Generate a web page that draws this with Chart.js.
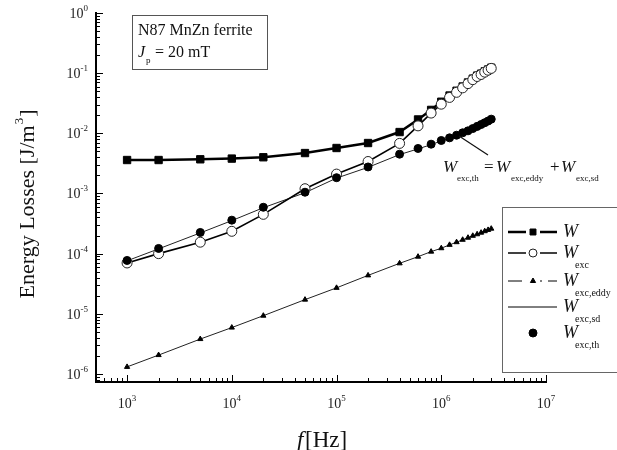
<!DOCTYPE html>
<html>
<head>
<meta charset="utf-8">
<script src="https://cdn.jsdelivr.net/npm/chart.js@4.4.1/dist/chart.umd.min.js"></script>
<style>
  body { margin: 0; background: #fff; }
  #wrap { width: 617px; height: 450px; }
</style>
</head>
<body>
<div id="wrap"><canvas id="c" width="617" height="450"></canvas></div>
<script>
// frequencies [Hz]
const freq = [1e3, 2e3, 5e3, 1e4, 2e4, 5e4, 1e5, 2e5, 4e5, 6e5, 8e5,
  1e6, 1.2e6, 1.4e6, 1.6e6, 1.8e6, 2e6, 2.2e6, 2.4e6, 2.6e6, 2.8e6, 3e6];

// energy losses [J/m^3]
const wTotal = [3.6e-3, 3.6e-3, 3.7e-3, 3.8e-3, 4.0e-3, 4.7e-3, 5.7e-3, 6.9e-3, 1.05e-2, 1.7e-2, 2.45e-2,
  3.35e-2, 4.25e-2, 5.1e-2, 6.0e-2, 7.0e-2, 8.1e-2, 9.1e-2, 9.8e-2, 0.107, 0.115, 0.123];
const wExc = [7.0e-5, 1.0e-4, 1.55e-4, 2.35e-4, 4.5e-4, 1.2e-3, 2.1e-3, 3.4e-3, 6.8e-3, 1.33e-2, 2.17e-2,
  3.05e-2, 3.95e-2, 4.8e-2, 5.7e-2, 6.7e-2, 7.8e-2, 8.8e-2, 9.5e-2, 0.104, 0.112, 0.12];
const wEddy = [1.31e-6, 2.06e-6, 3.8e-6, 5.9e-6, 9.3e-6, 1.72e-5, 2.7e-5, 4.35e-5, 6.9e-5, 8.9e-5, 1.08e-4,
  1.23e-4, 1.4e-4, 1.55e-4, 1.7e-4, 1.84e-4, 1.98e-4, 2.1e-4, 2.23e-4, 2.36e-4, 2.48e-4, 2.6e-4];
const wSd = [7.6e-5, 1.2e-4, 2.21e-4, 3.54e-4, 5.8e-4, 1.03e-3, 1.8e-3, 2.72e-3, 4.43e-3, 5.51e-3, 6.49e-3,
  7.48e-3, 8.26e-3, 9.15e-3, 1.0e-2, 1.08e-2, 1.18e-2, 1.28e-2, 1.38e-2, 1.48e-2, 1.58e-2, 1.69e-2];
const wTh = [7.7e-5, 1.22e-4, 2.25e-4, 3.6e-4, 5.9e-4, 1.05e-3, 1.83e-3, 2.76e-3, 4.5e-3, 5.6e-3, 6.6e-3,
  7.6e-3, 8.4e-3, 9.3e-3, 1.02e-2, 1.1e-2, 1.2e-2, 1.3e-2, 1.4e-2, 1.5e-2, 1.6e-2, 1.72e-2];

// decade tick labels (exponents)
const xDecades = [3, 4, 5, 6, 7];
const yDecades = [-6, -5, -4, -3, -2, -1, 0];

const SERIF = '"Liberation Serif", "DejaVu Serif", serif';
const pts = arr => arr.map((v, i) => ({ x: freq[i], y: v }));

// "10" with raised exponent
function drawPow(ctx, exp, x, y, align) {
  const base = '10', sup = String(exp);
  ctx.font = '14px ' + SERIF;
  const wb = ctx.measureText(base).width;
  ctx.font = '9px ' + SERIF;
  const ws = ctx.measureText(sup).width;
  const total = wb + ws;
  let x0 = align === 'right' ? x - total : x - total / 2;
  ctx.textAlign = 'left';
  ctx.textBaseline = 'alphabetic';
  ctx.font = '14px ' + SERIF;
  ctx.fillText(base, x0, y);
  ctx.font = '9px ' + SERIF;
  ctx.fillText(sup, x0 + wb, y - 7);
}

// italic W with subscript
function drawW(ctx, x, y, sub, size, subSize, subX) {
  ctx.textAlign = 'left';
  ctx.textBaseline = 'alphabetic';
  ctx.font = 'italic ' + size + 'px ' + SERIF;
  ctx.fillText('W', x, y);
  if (sub) {
    ctx.font = subSize + 'px ' + SERIF;
    ctx.fillText(sub, subX !== undefined ? subX : x + 14, y + subSize);
  }
}

const decor = {
  id: 'decor',
  afterDraw(chart) {
    const ctx = chart.ctx;
    const xs = chart.scales.x, ys = chart.scales.y;
    const area = chart.chartArea;
    ctx.save();
    ctx.fillStyle = '#000';
    ctx.strokeStyle = '#000';

    // inward ticks
    ctx.lineWidth = 1;
    for (let e = 2; e <= 7; e++) {
      for (let m = 1; m <= 9; m++) {
        const v = m * Math.pow(10, e);
        if (v < xs.min || v > xs.max) continue;
        const px = Math.round(xs.getPixelForValue(v)) + 0.5;
        const len = m === 1 ? 7 : 4;
        ctx.beginPath();
        ctx.moveTo(px, area.bottom);
        ctx.lineTo(px, area.bottom - len);
        ctx.stroke();
      }
    }
    for (let e = -7; e <= 0; e++) {
      for (let m = 1; m <= 9; m++) {
        const v = m * Math.pow(10, e);
        if (v < ys.min || v > ys.max * 1.0001) continue;
        const py = Math.round(ys.getPixelForValue(v)) + 0.5;
        const len = m === 1 ? 7 : 4;
        ctx.beginPath();
        ctx.moveTo(area.left, py);
        ctx.lineTo(area.left + len, py);
        ctx.stroke();
      }
    }

    // tick labels
    ctx.fillStyle = '#222';
    xDecades.forEach(e => drawPow(ctx, e, xs.getPixelForValue(Math.pow(10, e)), area.bottom + 26, 'center'));
    yDecades.forEach(e => drawPow(ctx, e, area.left - 8, ys.getPixelForValue(Math.pow(10, e)) + 5, 'right'));

    // axis titles
    ctx.fillStyle = '#111';
    ctx.save();
    ctx.translate(34, 205);
    ctx.rotate(-Math.PI / 2);
    ctx.textBaseline = 'alphabetic';
    ctx.font = '22px ' + SERIF;
    const t1 = 'Energy Losses [J/m';
    const w1 = ctx.measureText(t1).width;
    ctx.font = '13px ' + SERIF;
    const w2 = ctx.measureText('3').width;
    ctx.font = '22px ' + SERIF;
    const w3 = ctx.measureText(']').width;
    let sx = -(w1 + w2 + w3) / 2;
    ctx.textAlign = 'left';
    ctx.fillText(t1, sx, 0);
    ctx.font = '13px ' + SERIF;
    ctx.fillText('3', sx + w1 + 1, -11);
    ctx.font = '22px ' + SERIF;
    ctx.fillText(']', sx + w1 + w2 + 2, 0);
    ctx.restore();

    ctx.textAlign = 'left';
    ctx.font = 'italic 23px ' + SERIF;
    ctx.fillText('f', 297, 447);
    ctx.font = '23px ' + SERIF;
    ctx.fillText('[Hz]', 305, 447);

    // info box
    ctx.strokeStyle = '#555';
    ctx.lineWidth = 1;
    ctx.strokeRect(132.5, 15.5, 135, 54);
    ctx.fillStyle = '#111';
    ctx.font = '16px ' + SERIF;
    ctx.fillText('N87 MnZn ferrite', 138, 35);
    ctx.font = 'italic 16px ' + SERIF;
    ctx.fillText('J', 138, 57);
    ctx.font = '9px ' + SERIF;
    ctx.fillText('p', 146, 63);
    ctx.font = '16px ' + SERIF;
    ctx.fillText('= 20 mT', 155, 57);

    // annotation
    ctx.strokeStyle = '#111';
    ctx.lineWidth = 1.2;
    ctx.beginPath();
    ctx.moveTo(488, 155);
    ctx.lineTo(459, 136);
    ctx.stroke();
    drawW(ctx, 443, 172, 'exc,th', 17, 9, 457);
    ctx.font = '17px ' + SERIF;
    ctx.fillText('=', 484, 172);
    drawW(ctx, 496, 172, 'exc,eddy', 17, 9, 511);
    ctx.font = '17px ' + SERIF;
    ctx.fillText('+', 550, 172);
    drawW(ctx, 561, 172, 'exc,sd', 17, 9, 576);

    // legend
    ctx.strokeStyle = '#666';
    ctx.lineWidth = 1;
    ctx.strokeRect(502.5, 207.5, 130, 165);
    const rows = [
      { y: 232, ty: 237, sub: '' },
      { y: 253, ty: 258, sub: 'exc' },
      { y: 281, ty: 286, sub: 'exc,eddy' },
      { y: 307, ty: 312, sub: 'exc,sd' },
      { y: 333, ty: 338, sub: 'exc,th' }
    ];
    const ds = chart.data.datasets;
    rows.forEach((r, i) => {
      const d = ds[i];
      ctx.strokeStyle = '#000';
      ctx.fillStyle = '#000';
      if (d.showLine !== false) {
        ctx.lineWidth = d.borderWidth;
        if (d.pointStyle === 'triangle') ctx.setLineDash([14, 6]);
        ctx.beginPath();
        ctx.moveTo(508, r.y);
        ctx.lineTo(557, r.y);
        ctx.stroke();
        ctx.setLineDash([]);
      }
      if (d.pointRadius > 0) {
        if (d.showLine !== false) {
          ctx.fillStyle = '#fff';
          ctx.fillRect(526, r.y - 5, 14, 10);
        }
        ctx.fillStyle = d.pointBackgroundColor;
        ctx.strokeStyle = d.pointBorderColor;
        ctx.lineWidth = d.pointBorderWidth || 1;
        const rad = d.pointStyle === 'circle' && d.pointBackgroundColor === '#fff' ? 4 : d.pointRadius - (d.pointStyle === 'rect' ? 1 : 0);
        Chart.helpers.drawPoint(ctx, { pointStyle: d.pointStyle, radius: rad, borderWidth: ctx.lineWidth, rotation: 0 }, 533, r.y);
      }
      ctx.fillStyle = '#111';
      drawW(ctx, 563, r.ty, r.sub, 18, 10, 575);
    });
    ctx.restore();
  }
};

new Chart(document.getElementById('c'), {
  type: 'line',
  data: {
    datasets: [
      {
        label: 'W', data: pts(wTotal), order: 2,
        borderColor: '#000', borderWidth: 2.5,
        pointStyle: 'rect', pointRadius: 5.2, pointBackgroundColor: '#000', pointBorderColor: '#000', pointBorderWidth: 1
      },
      {
        label: 'W exc', data: pts(wExc), order: 1,
        borderColor: '#000', borderWidth: 1.6,
        pointStyle: 'circle', pointRadius: 5, pointBackgroundColor: '#fff', pointBorderColor: '#222', pointBorderWidth: 1
      },
      {
        label: 'W exc,eddy', data: pts(wEddy), order: 4,
        borderColor: '#222', borderWidth: 1,
        pointStyle: 'triangle', pointRadius: 3, pointBackgroundColor: '#000', pointBorderColor: '#000', pointBorderWidth: 1
      },
      {
        label: 'W exc,sd', data: pts(wSd), order: 3,
        borderColor: '#222', borderWidth: 1, pointRadius: 0
      },
      {
        label: 'W exc,th', data: pts(wTh), order: 0, showLine: false,
        pointStyle: 'circle', pointRadius: 4, pointBackgroundColor: '#000', pointBorderColor: '#000', pointBorderWidth: 1
      }
    ]
  },
  options: {
    responsive: false,
    animation: false,
    devicePixelRatio: 1,
    layout: { padding: { left: 96, right: 71, top: 13, bottom: 68 } },
    plugins: { legend: { display: false }, tooltip: { enabled: false } },
    scales: {
      x: {
        type: 'logarithmic', min: 505, max: 1e7,
        grid: { display: false, drawTicks: false },
        ticks: { display: false },
        border: { display: true, color: '#000', width: 2 }
      },
      y: {
        type: 'logarithmic', min: 7.35e-7, max: 1,
        grid: { display: false, drawTicks: false },
        ticks: { display: false },
        border: { display: true, color: '#000', width: 2 }
      }
    }
  },
  plugins: [decor]
});
</script>
</body>
</html>
